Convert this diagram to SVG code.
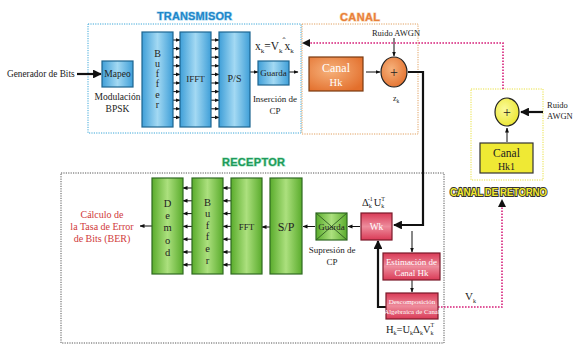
<svg xmlns="http://www.w3.org/2000/svg" width="573" height="345" viewBox="0 0 573 345">
<defs>
<linearGradient id="gb" x1="0" y1="0" x2="1" y2="0"><stop offset="0" stop-color="#3f9fd8"/><stop offset="0.5" stop-color="#a3d9f3"/><stop offset="1" stop-color="#3f9fd8"/></linearGradient>
<linearGradient id="gg" x1="0" y1="0" x2="1" y2="0"><stop offset="0" stop-color="#5aac2c"/><stop offset="0.5" stop-color="#ace07e"/><stop offset="1" stop-color="#5aac2c"/></linearGradient>
<linearGradient id="gp" x1="0" y1="0" x2="0" y2="1"><stop offset="0" stop-color="#d93a56"/><stop offset="0.5" stop-color="#ee8c9c"/><stop offset="1" stop-color="#d93a56"/></linearGradient>
<radialGradient id="go" cx="0.4" cy="0.4" r="0.7"><stop offset="0" stop-color="#f6b27c"/><stop offset="1" stop-color="#e36f2c"/></radialGradient>
<radialGradient id="gy" cx="0.4" cy="0.4" r="0.7"><stop offset="0" stop-color="#fafa9a"/><stop offset="1" stop-color="#ebe52a"/></radialGradient>
<marker id="ah" viewBox="0 0 10 10" refX="9" refY="5" markerWidth="4" markerHeight="4" orient="auto"><path d="M0,0 L10,5 L0,10 z" fill="#111"/></marker>
<marker id="as" viewBox="0 0 10 10" refX="9" refY="5" markerWidth="5" markerHeight="5" orient="auto"><path d="M0,1 L10,5 L0,9 z" fill="#111"/></marker>
<style>
.t{font-family:"Liberation Serif",serif;fill:#222;}
.w{fill:#fff;}
.tl{font-family:"Liberation Sans",Arial,sans-serif;font-weight:bold;paint-order:stroke;}
.bb{fill:url(#gb);stroke:#1d6590;stroke-width:1.2;}
.gb{fill:url(#gg);stroke:#2f6a22;stroke-width:1.2;}
.pb{fill:url(#gp);stroke:#7a1a2a;stroke-width:1.2;}
.sa{stroke:#111;stroke-width:1;marker-end:url(#as);}
.th{stroke:#111;stroke-width:2.2;fill:none;marker-end:url(#ah);}
.pk{stroke:#d6207a;stroke-width:1.6;stroke-dasharray:1.6 1.4;fill:none;}
</style>
</defs>
<rect width="573" height="345" fill="#fff"/>

<g id="frames" fill="none">
<rect x="88" y="24" width="213" height="109" stroke="#3aa6d8" stroke-width="1" stroke-dasharray="1.2 1.2"/>
<rect x="302" y="24" width="116" height="110" stroke="#e0a060" stroke-width="1" stroke-dasharray="1.2 1.2"/>
<rect x="61" y="173" width="383" height="170" stroke="#555" stroke-width="1" stroke-dasharray="1.2 1.2"/>
<rect x="471" y="89" width="72" height="91" stroke="#e8e040" stroke-width="1" stroke-dasharray="1.2 1.2"/>
</g>

<text class="tl" x="157" y="20" font-size="11" textLength="75" fill="#1f86c8" stroke="#a6d8f2" stroke-width="1.2">TRANSMISOR</text>
<text class="tl" x="340" y="21" font-size="11" textLength="40" fill="#e8803a" stroke="#f8d0a8" stroke-width="1.2">CANAL</text>
<text class="tl" x="222" y="166" font-size="11" textLength="63" fill="#1f9a5a" stroke="#a8e4c4" stroke-width="1.2">RECEPTOR</text>
<text class="tl" x="450" y="196" font-size="10" textLength="97" fill="#f2ea2e" stroke="#333" stroke-width="1.8">CANAL DE RETORNO</text>

<g id="connectors">
<line class="th" x1="77" y1="74" x2="101" y2="74"/>
<g id="txarr1">
<line class="sa" x1="173" y1="40" x2="180" y2="40"/><line class="sa" x1="173" y1="48.6" x2="180" y2="48.6"/><line class="sa" x1="173" y1="57.2" x2="180" y2="57.2"/><line class="sa" x1="173" y1="65.8" x2="180" y2="65.8"/><line class="sa" x1="173" y1="74.4" x2="180" y2="74.4"/><line class="sa" x1="173" y1="83" x2="180" y2="83"/><line class="sa" x1="173" y1="91.6" x2="180" y2="91.6"/><line class="sa" x1="173" y1="100.2" x2="180" y2="100.2"/><line class="sa" x1="173" y1="108.8" x2="180" y2="108.8"/><line class="sa" x1="173" y1="117.4" x2="180" y2="117.4"/>
</g>
<g id="txarr2">
<line class="sa" x1="211" y1="40" x2="219" y2="40"/><line class="sa" x1="211" y1="48.6" x2="219" y2="48.6"/><line class="sa" x1="211" y1="57.2" x2="219" y2="57.2"/><line class="sa" x1="211" y1="65.8" x2="219" y2="65.8"/><line class="sa" x1="211" y1="74.4" x2="219" y2="74.4"/><line class="sa" x1="211" y1="83" x2="219" y2="83"/><line class="sa" x1="211" y1="91.6" x2="219" y2="91.6"/><line class="sa" x1="211" y1="100.2" x2="219" y2="100.2"/><line class="sa" x1="211" y1="108.8" x2="219" y2="108.8"/><line class="sa" x1="211" y1="117.4" x2="219" y2="117.4"/>
</g>
<line class="sa" x1="250" y1="72" x2="258" y2="72"/>
<line class="sa" x1="289" y1="72" x2="298" y2="72"/>
<line class="sa" x1="366" y1="72" x2="380" y2="72" stroke-width="1.2"/>
<line class="sa" x1="394" y1="38" x2="394" y2="56" stroke-width="1.2"/>
<polyline class="th" points="408,72 423,72 423,225 394,225" stroke-width="2.8"/>
<line class="sa" x1="360" y1="226.5" x2="348" y2="226.5" stroke-width="1.3"/>
<line class="sa" x1="315" y1="226.5" x2="303" y2="226.5" stroke-width="1.3"/>
<line class="sa" x1="270" y1="227" x2="262" y2="227"/>
<g id="rxarr1">
<line class="sa" x1="231" y1="188" x2="223" y2="188"/><line class="sa" x1="231" y1="200.8" x2="223" y2="200.8"/><line class="sa" x1="231" y1="213.6" x2="223" y2="213.6"/><line class="sa" x1="231" y1="226.4" x2="223" y2="226.4"/><line class="sa" x1="231" y1="239.2" x2="223" y2="239.2"/><line class="sa" x1="231" y1="252" x2="223" y2="252"/><line class="sa" x1="231" y1="264.8" x2="223" y2="264.8"/>
</g>
<g id="rxarr2">
<line class="sa" x1="192" y1="188" x2="183" y2="188"/><line class="sa" x1="192" y1="200.8" x2="183" y2="200.8"/><line class="sa" x1="192" y1="213.6" x2="183" y2="213.6"/><line class="sa" x1="192" y1="226.4" x2="183" y2="226.4"/><line class="sa" x1="192" y1="239.2" x2="183" y2="239.2"/><line class="sa" x1="192" y1="252" x2="183" y2="252"/><line class="sa" x1="192" y1="264.8" x2="183" y2="264.8"/>
</g>
<line class="sa" x1="152" y1="226" x2="140" y2="226" stroke-width="1.3"/>
<line class="sa" x1="412" y1="231" x2="412" y2="252" stroke-width="1.2"/>
<line class="sa" x1="412" y1="280" x2="412" y2="292"/>
<polyline class="th" points="386,307 378,307 378,241" stroke-width="1.8"/>
<polyline class="pk" points="438,307 502,307 502,206"/>
<path d="M498,207 L502,199 L506,207 z" fill="#111"/>
<polyline class="pk" points="503,89 503,43 309,43"/>
<path d="M310,39 L302,43 L310,47 z" fill="#111"/>
<line class="th" x1="543" y1="112" x2="521" y2="112" stroke-width="2"/>
<line class="sa" x1="507" y1="142" x2="507" y2="128" stroke-width="1.3"/>
</g>

<text class="t" x="7" y="77" font-size="9.3">Generador de Bits</text>

<g id="mapeo">
<rect class="bb" x="102" y="61" width="31" height="26"/>
<text class="t" x="117.5" y="77" font-size="9.5" text-anchor="middle">Mapeo</text>
<text class="t" x="117.5" y="100" font-size="9.5" text-anchor="middle">Modulación</text>
<text class="t" x="117.5" y="112" font-size="9.5" text-anchor="middle">BPSK</text>
</g>
<g id="buffer-tx">
<rect class="bb" x="142" y="32" width="31" height="95"/>
<text class="t" font-size="10" text-anchor="middle"><tspan x="157.5" y="57">B</tspan><tspan x="157.5" y="67">u</tspan><tspan x="157.5" y="77">f</tspan><tspan x="157.5" y="87">f</tspan><tspan x="157.5" y="98">e</tspan><tspan x="157.5" y="108">r</tspan></text>
</g>
<g id="ifft">
<rect class="bb" x="180" y="32" width="31" height="95"/>
<text class="t" x="195.5" y="82" font-size="9" text-anchor="middle">IFFT</text>
</g>
<g id="ps">
<rect class="bb" x="219" y="32" width="31" height="95"/>
<text class="t" x="234.5" y="82" font-size="10" text-anchor="middle">P/S</text>
</g>
<g id="guarda-tx">
<rect class="bb" x="258" y="61" width="31" height="24"/>
<text class="t" x="273.5" y="76" font-size="9" text-anchor="middle">Guarda</text>
<text class="t" x="275" y="102" font-size="9" text-anchor="middle">Inserción de</text>
<text class="t" x="275" y="114" font-size="9" text-anchor="middle">CP</text>
</g>
<text class="t" x="255" y="50" font-size="11.5">x<tspan font-size="7" dy="3">k</tspan><tspan dy="-3">=V</tspan><tspan font-size="7" dy="3">k</tspan><tspan dy="-3" dx="2">x</tspan><tspan font-size="7" dy="3">k</tspan></text>
<text class="t" x="282.5" y="44" font-size="9">ˆ</text>

<g id="canal-hk">
<rect x="309" y="57" width="54" height="34" fill="url(#go)" stroke="#7a3a10" stroke-width="1.2"/>
<text class="t w" x="336" y="72" font-size="12" text-anchor="middle">Canal</text>
<text class="t w" x="336" y="86" font-size="10.5" text-anchor="middle">Hk</text>
</g>
<g id="sum-tx">
<ellipse cx="394" cy="72" rx="13" ry="15" fill="url(#go)" stroke="#222" stroke-width="1.2"/>
<text class="t" x="394" y="77" font-size="14" text-anchor="middle">+</text>
<text class="t" x="396" y="36" font-size="8.5" text-anchor="middle">Ruido AWGN</text>
<text class="t" x="393" y="101" font-size="8">z<tspan font-size="5.5" dy="2">k</tspan></text>
</g>

<g id="sum-ret">
<ellipse cx="507" cy="112" rx="12" ry="14" fill="url(#gy)" stroke="#222" stroke-width="1.2"/>
<text class="t" x="507" y="117" font-size="14" text-anchor="middle">+</text>
<text class="t" x="547" y="108" font-size="8.5">Ruido</text>
<text class="t" x="547" y="119" font-size="8.5">AWGN</text>
</g>
<g id="canal-hk1">
<rect x="480" y="143" width="53" height="30" fill="#efe934" stroke="#333" stroke-width="1.2"/>
<text class="t" x="506.5" y="157" font-size="11.5" text-anchor="middle">Canal</text>
<text class="t" x="506.5" y="170" font-size="10" text-anchor="middle">Hk1</text>
</g>

<g id="demod">
<rect class="gb" x="152" y="178" width="31" height="96"/>
<text class="t" font-size="10.5" text-anchor="middle"><tspan x="167.5" y="207">D</tspan><tspan x="167.5" y="219">e</tspan><tspan x="167.5" y="231">m</tspan><tspan x="167.5" y="244">o</tspan><tspan x="167.5" y="256">d</tspan></text>
</g>
<g id="buffer-rx">
<rect class="gb" x="192" y="178" width="31" height="96"/>
<text class="t" font-size="10.5" text-anchor="middle"><tspan x="207.5" y="206">B</tspan><tspan x="207.5" y="217">u</tspan><tspan x="207.5" y="229">f</tspan><tspan x="207.5" y="240">f</tspan><tspan x="207.5" y="252">e</tspan><tspan x="207.5" y="264">r</tspan></text>
</g>
<g id="fft">
<rect class="gb" x="231" y="178" width="31" height="96"/>
<text class="t" x="246.5" y="230" font-size="9" text-anchor="middle">FFT</text>
</g>
<g id="sp">
<rect class="gb" x="270" y="178" width="32" height="96"/>
<text class="t" x="286" y="231" font-size="12" text-anchor="middle">S/P</text>
</g>
<g id="ber">
<text class="t" font-size="10" text-anchor="middle" style="fill:#d03a3a"><tspan x="102" y="218">Cálculo de</tspan><tspan x="102" y="230">la Tasa de Error</tspan><tspan x="102" y="242">de Bits (BER)</tspan></text>
</g>
<g id="guarda-rx">
<rect class="gb" x="316" y="213" width="31" height="27"/>
<line x1="316" y1="213" x2="347" y2="240" stroke="#2f5a22" stroke-width="0.9"/>
<line x1="347" y1="213" x2="316" y2="240" stroke="#2f5a22" stroke-width="0.9"/>
<text class="t" x="331.5" y="230" font-size="9" text-anchor="middle">Guarda</text>
<text class="t" x="332" y="253" font-size="9" text-anchor="middle">Supresión de</text>
<text class="t" x="332" y="265" font-size="9" text-anchor="middle">CP</text>
</g>
<g id="wk">
<rect class="pb" x="361" y="213" width="31" height="27"/>
<text class="t w" x="376.5" y="230" font-size="9.5" text-anchor="middle">Wk</text>
<text class="t" x="362" y="206" font-size="10.5">Δ<tspan font-size="6" dy="2">k</tspan><tspan font-size="6" dx="-4" dy="-7">-1</tspan><tspan dy="5" dx="1">U</tspan><tspan font-size="6" dy="2">k</tspan><tspan font-size="6" dx="-3" dy="-7">T</tspan></text>
</g>
<g id="estimacion">
<rect class="pb" x="383" y="253" width="57" height="27"/>
<text class="t w" x="411.5" y="265" font-size="9" text-anchor="middle">Estimación de</text>
<text class="t w" x="411.5" y="276" font-size="9" text-anchor="middle">Canal Hk</text>
</g>
<g id="descomposicion">
<rect class="pb" x="386" y="293" width="52" height="26"/>
<text class="t w" x="412" y="304" font-size="7" text-anchor="middle">Descomposición</text>
<text class="t w" x="412" y="314" font-size="6.8" text-anchor="middle">Algebraica de Canal</text>
<text class="t" x="386" y="333" font-size="10.5">H<tspan font-size="6" dy="2">k</tspan><tspan dy="-2">=U</tspan><tspan font-size="6" dy="2">k</tspan><tspan dy="-2">Δ</tspan><tspan font-size="6" dy="2">k</tspan><tspan dy="-2">V</tspan><tspan font-size="6" dy="2">k</tspan><tspan font-size="6" dx="-3" dy="-8">T</tspan></text>
</g>
<text class="t" x="465" y="300" font-size="11">V<tspan font-size="6" dy="3">k</tspan></text>
</svg>
